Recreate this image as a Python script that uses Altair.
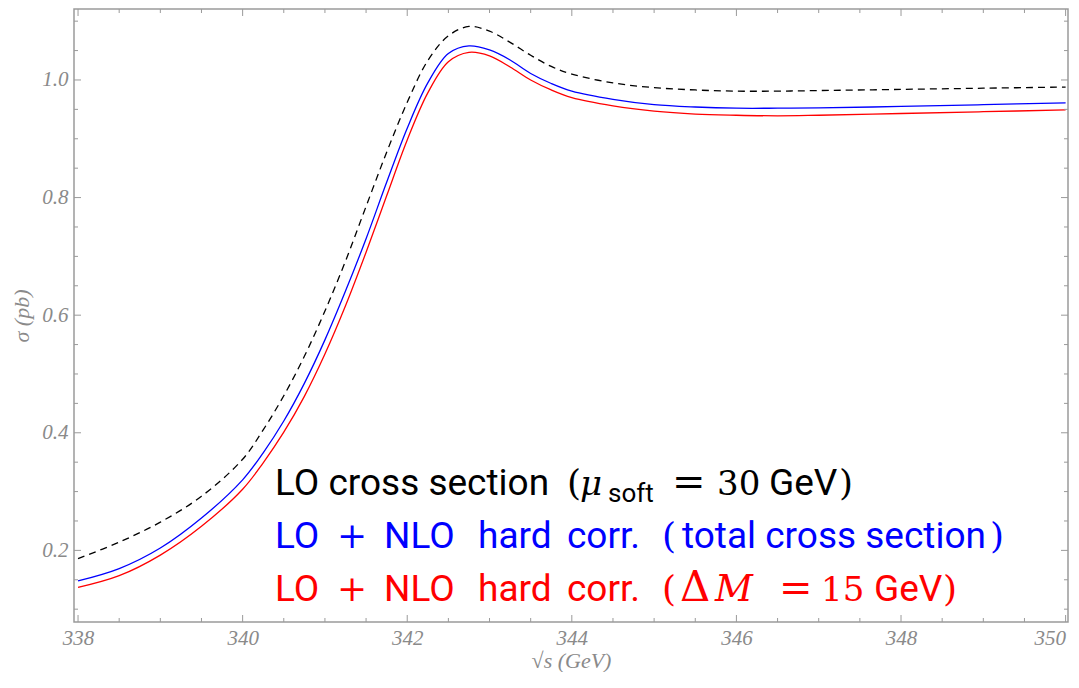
import altair as alt
import pandas as pd

# ---- data ----
s_vals = [338, 338.5, 339, 339.5, 340, 340.25, 340.5, 340.75, 341, 341.25, 341.5, 341.75,
          342, 342.25, 342.5, 342.75, 343, 343.25, 343.5, 343.75, 344, 344.5, 345, 345.5,
          346, 346.5, 347, 348, 349, 350]
lo_vals = [0.186, 0.214, 0.248, 0.292, 0.355, 0.405, 0.463, 0.530, 0.607, 0.692, 0.785, 0.877,
           0.962, 1.033, 1.075, 1.091, 1.083, 1.064, 1.042, 1.023, 1.010, 0.995, 0.987, 0.983,
           0.981, 0.981, 0.982, 0.984, 0.986, 0.988]
blue_vals = [0.148, 0.169, 0.204, 0.255, 0.320, 0.366, 0.420, 0.484, 0.558, 0.641, 0.730, 0.826,
             0.918, 0.995, 1.045, 1.058, 1.051, 1.034, 1.011, 0.994, 0.981, 0.967, 0.958, 0.954,
             0.952, 0.952, 0.9525, 0.955, 0.958, 0.961]
red_vals = [0.137, 0.157, 0.192, 0.241, 0.304, 0.349, 0.401, 0.462, 0.534, 0.616, 0.707, 0.803,
            0.898, 0.978, 1.031, 1.047, 1.041, 1.022, 1.000, 0.983, 0.970, 0.956, 0.947, 0.942,
            0.940, 0.939, 0.940, 0.943, 0.946, 0.949]

x_major = [338, 340, 342, 344, 346, 348, 350]
x_minor = [338.5, 339, 339.5, 340.5, 341, 341.5, 342.5, 343, 343.5, 344.5, 345, 345.5,
           346.5, 347, 347.5, 348.5, 349, 349.5]
y_major = [0.2, 0.4, 0.6, 0.8, 1.0]
y_minor = [0.1, 0.15, 0.25, 0.3, 0.35, 0.45, 0.5, 0.55, 0.65, 0.7, 0.75, 0.85, 0.9, 0.95,
           1.05, 1.1]

# ---- layout ----
W, H = 994, 613
PLOT_X0, PLOT_Y0 = 74, 9
GRAY = "#8a8a8a"
FRAME = "#9a9a9a"
SANS = "Roboto"
SERIF = "DejaVu Serif"
LABEL_FONT = "Liberation Serif"

xscale = alt.Scale(domain=[337.951, 350.029], nice=False, zero=False)
yscale = alt.Scale(domain=[0.0782, 1.1207], nice=False, zero=False)

df = pd.DataFrame({"s": s_vals, "lo": lo_vals, "blue": blue_vals, "red": red_vals})

xaxis = alt.Axis(values=x_major, format="d", labelFont=LABEL_FONT,
                 labelFontStyle="italic", labelFontSize=21, labelColor=GRAY,
                 ticks=False, domain=False, grid=False, labelPadding=5, labelFlush=3,
                 title="√s (GeV)", titleFont=LABEL_FONT, titleFontStyle="italic",
                 titleFontWeight="normal", titleFontSize=22, titleColor=GRAY, titlePadding=2)
yaxis = alt.Axis(values=y_major, format=".1f", labelFont=LABEL_FONT,
                 labelFontStyle="italic", labelFontSize=21, labelColor=GRAY,
                 ticks=False, domain=False, grid=False, labelPadding=6,
                 title="σ (pb)", titleFont=LABEL_FONT, titleFontStyle="italic",
                 titleFontWeight="normal", titleFontSize=22, titleColor=GRAY, titlePadding=8)

X = alt.X("s:Q", scale=xscale, axis=xaxis, title="√s (GeV)")
base = alt.Chart(df)
lo_line = base.mark_line(color="black", strokeDash=[7, 5], strokeWidth=1.3,
                         interpolate="catmull-rom").encode(
    x=X, y=alt.Y("lo:Q", scale=yscale, axis=yaxis, title="σ (pb)"))
blue_line = base.mark_line(color="#0000ff", strokeWidth=1.3, interpolate="catmull-rom").encode(
    x=X, y=alt.Y("blue:Q", scale=yscale, axis=yaxis, title="σ (pb)"))
red_line = base.mark_line(color="#ff0000", strokeWidth=1.3, interpolate="catmull-rom").encode(
    x=X, y=alt.Y("red:Q", scale=yscale, axis=yaxis, title="σ (pb)"))


def xticks(vals, length):
    d = alt.Chart(pd.DataFrame({"v": vals}))
    xe = alt.X("v:Q", scale=xscale, axis=xaxis, title="√s (GeV)")
    bottom = d.mark_rule(color=FRAME, strokeWidth=1).encode(
        x=xe, y=alt.value(H), y2=alt.value(H - length))
    top = d.mark_rule(color=FRAME, strokeWidth=1).encode(
        x=xe, y=alt.value(0), y2=alt.value(length))
    return [bottom, top]


def yticks(vals, length):
    d = alt.Chart(pd.DataFrame({"v": vals}))
    ye = alt.Y("v:Q", scale=yscale, axis=yaxis, title="σ (pb)")
    left = d.mark_rule(color=FRAME, strokeWidth=1).encode(
        y=ye, x=alt.value(0), x2=alt.value(length))
    right = d.mark_rule(color=FRAME, strokeWidth=1).encode(
        y=ye, x=alt.value(W), x2=alt.value(W - length))
    return [left, right]


tick_layers = xticks(x_major, 7) + xticks(x_minor, 4) + yticks(y_major, 7) + yticks(y_minor, 4)

# ---- in-plot legend text (segments; page coordinates of reference) ----
# (text, x, baseline, font, size, style, color)
BL1, BL2, BL3 = 495, 548, 601
K, B, R = "black", "#0000ff", "#ff0000"
segments = [
    ("LO cross section", 275, BL1, SANS, 37, "normal", K),
    ("(", 567, BL1, SERIF, 36, "normal", K),
    ("μ", 580, BL1, SERIF, 34, "italic", K),
    ("soft", 608, BL1 + 7, SANS, 26, "normal", K),
    ("=", 672, BL1, SERIF, 40, "normal", K),
    ("30", 717, BL1, SERIF, 34, "normal", K),
    ("GeV", 769, BL1, SANS, 37, "normal", K),
    (")", 839, BL1, SERIF, 36, "normal", K),

    ("LO", 275, BL2, SANS, 37, "normal", B),
    ("+", 337, BL2, SERIF, 36, "normal", B),
    ("NLO", 384, BL2, SANS, 37, "normal", B),
    ("hard", 478, BL2, SANS, 37, "normal", B),
    ("corr.", 567, BL2, SANS, 37, "normal", B),
    ("(", 662, BL2, SERIF, 36, "normal", B),
    ("total cross section", 682, BL2, SANS, 37, "normal", B),
    (")", 990, BL2, SERIF, 36, "normal", B),

    ("LO", 275, BL3, SANS, 37, "normal", R),
    ("+", 337, BL3, SERIF, 36, "normal", R),
    ("NLO", 384, BL3, SANS, 37, "normal", R),
    ("hard", 478, BL3, SANS, 37, "normal", R),
    ("corr.", 567, BL3, SANS, 37, "normal", R),
    ("(", 662, BL3, SERIF, 36, "normal", R),
    ("Δ", 680, BL3, SERIF, 42, "normal", R),
    ("M", 715, BL3, SERIF, 37, "italic", R),
    ("=", 779, BL3, SERIF, 40, "normal", R),
    ("15", 821, BL3, SERIF, 34, "normal", R),
    ("GeV", 874, BL3, SANS, 37, "normal", R),
    (")", 943, BL3, SERIF, 36, "normal", R),
]

one = alt.Chart(pd.DataFrame({"a": [0]}))
text_layers = []
for txt, px, py, font, size, style, color in segments:
    text_layers.append(
        one.mark_text(text=txt, align="left", baseline="alphabetic", font=font,
                      fontSize=size, fontStyle=style, color=color).encode(
            x=alt.value(px - PLOT_X0), y=alt.value(py - PLOT_Y0)))

chart = alt.layer(lo_line, blue_line, red_line, *tick_layers, *text_layers).properties(
    width=W, height=H,
    padding={"left": 66, "top": 1, "right": 1, "bottom": 50},
    autosize="none",
).configure_view(stroke=FRAME, strokeWidth=1.5)

chart.save("out.html", embed_options={"renderer": "svg", "actions": False})
